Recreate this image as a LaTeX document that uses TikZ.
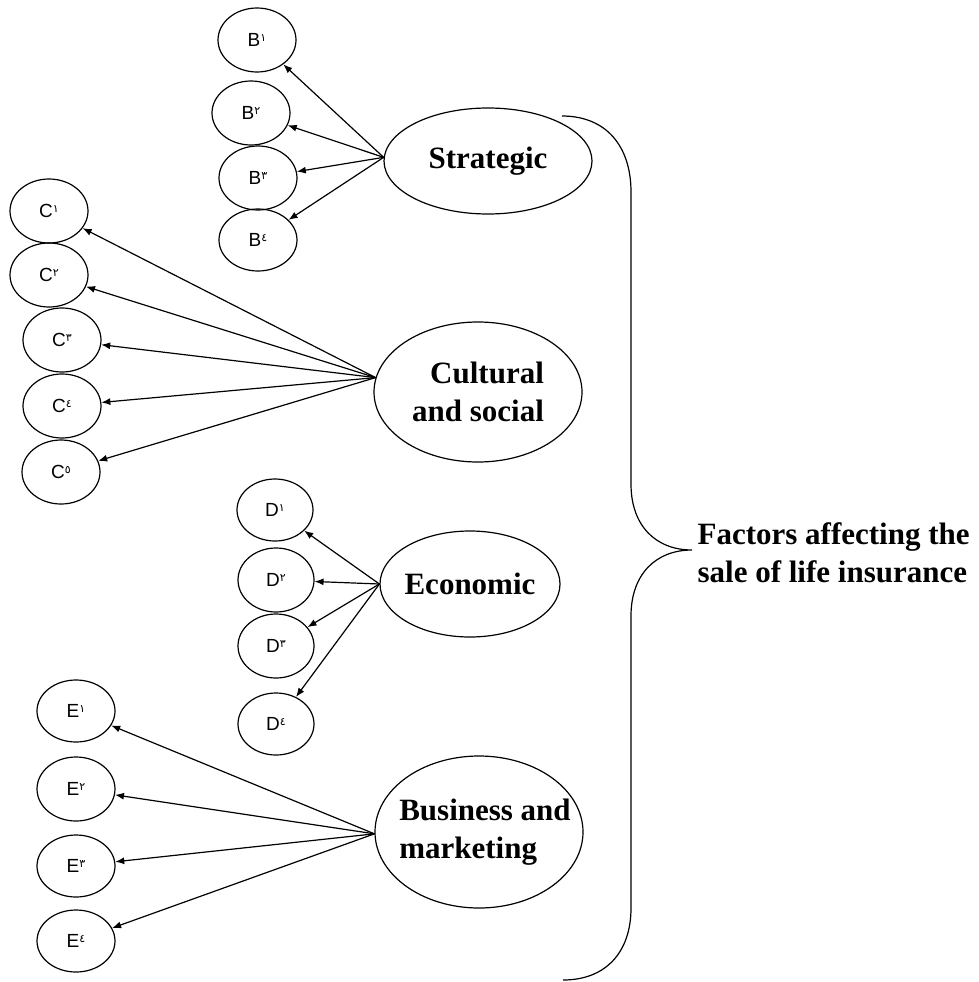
\documentclass[tikz,border=0pt]{standalone}
\usepackage{fontspec}
\setmainfont{Liberation Serif}
\newfontfamily\itemfont{Liberation Sans}
\newfontfamily\arabicfont[Script=Arabic]{DejaVu Sans}
\usetikzlibrary{arrows.meta,shapes.geometric}
\newcommand{\itm}[2]{{\itemfont #1}\raisebox{5pt}{\arabicfont\fontsize{11}{11}\selectfont #2}}

\begin{document}
\begin{tikzpicture}[x=1pt,y=-1pt,>={Latex[length=9pt,width=7pt]},line width=1.2pt,
  item/.style={draw,ellipse,minimum width=78pt,minimum height=64pt,inner sep=0pt,font=\fontsize{19}{19}\selectfont},
  factor/.style={draw,ellipse,inner sep=0pt},
  lbl/.style={font=\fontsize{31}{38}\selectfont\bfseries,inner sep=0pt}]
  \useasboundingbox (0,0) rectangle (979,982);
  % factor groups
  \node[factor,minimum width=208pt,minimum height=106pt,label={[lbl]center:Strategic}] (strat) at (488,161) {};
  \node[factor,minimum width=208pt,minimum height=140pt,label={[lbl,align=right]center:Cultural\\and social}] (cult) at (478,392) {};
  \node[factor,minimum width=180pt,minimum height=106pt,label={[lbl]center:Economic}] (econ) at (470,584) {};
  \node[factor,minimum width=208pt,minimum height=152pt,label={[lbl,align=left,xshift=6pt]center:Business and\\marketing}] (busi) at (479,832) {};
  % items
  \node[item] (b1) at (257,40) {\itm{B}{١}};
  \node[item] (b2) at (251,113) {\itm{B}{٢}};
  \node[item] (b3) at (258,178) {\itm{B}{٣}};
  \node[item,minimum height=62pt] (b4) at (258,240) {\itm{B}{٤}};
  \node[item] (c1) at (49,211) {\itm{C}{١}};
  \node[item] (c2) at (49,275) {\itm{C}{٢}};
  \node[item] (c3) at (62,340) {\itm{C}{٣}};
  \node[item] (c4) at (62,406) {\itm{C}{٤}};
  \node[item] (c5) at (61,472) {\itm{C}{٥}};
  \node[item,minimum width=76pt,minimum height=62pt] (d1) at (275,510) {\itm{D}{١}};
  \node[item,minimum width=76pt] (d2) at (276,580) {\itm{D}{٢}};
  \node[item,minimum width=76pt] (d3) at (276,646) {\itm{D}{٣}};
  \node[item,minimum width=76pt,minimum height=62pt] (d4) at (276,724) {\itm{D}{٤}};
  \node[item,minimum height=62pt] (e1) at (76,711) {\itm{E}{١}};
  \node[item] (e2) at (76,789) {\itm{E}{٢}};
  \node[item,minimum height=62pt] (e3) at (76,866) {\itm{E}{٣}};
  \node[item,minimum height=62pt] (e4) at (76,941) {\itm{E}{٤}};
  % arrows
  \foreach \n in {1,...,4} \draw[->] (strat.178) -- (b\n);
  \foreach \n in {1,...,5} \draw[->] (cult.172) -- (c\n);
  \foreach \n in {1,...,4} \draw[->] (econ.180) -- (d\n);
  \foreach \n in {1,...,4} \draw[->] (busi.181) -- (e\n);
  % brace
  \draw (562,116) .. controls (606,116) and (631,146) .. (631,192)
    -- (631,484) .. controls (631,526) and (656,550) .. (692,550)
    .. controls (656,550) and (631,574) .. (631,616)
    -- (631,908) .. controls (631,952) and (606,980) .. (563,980);
  \node[lbl,anchor=west,align=left] (goal) at (697,553) {Factors affecting the\\sale of life insurance};
\end{tikzpicture}
\end{document}
